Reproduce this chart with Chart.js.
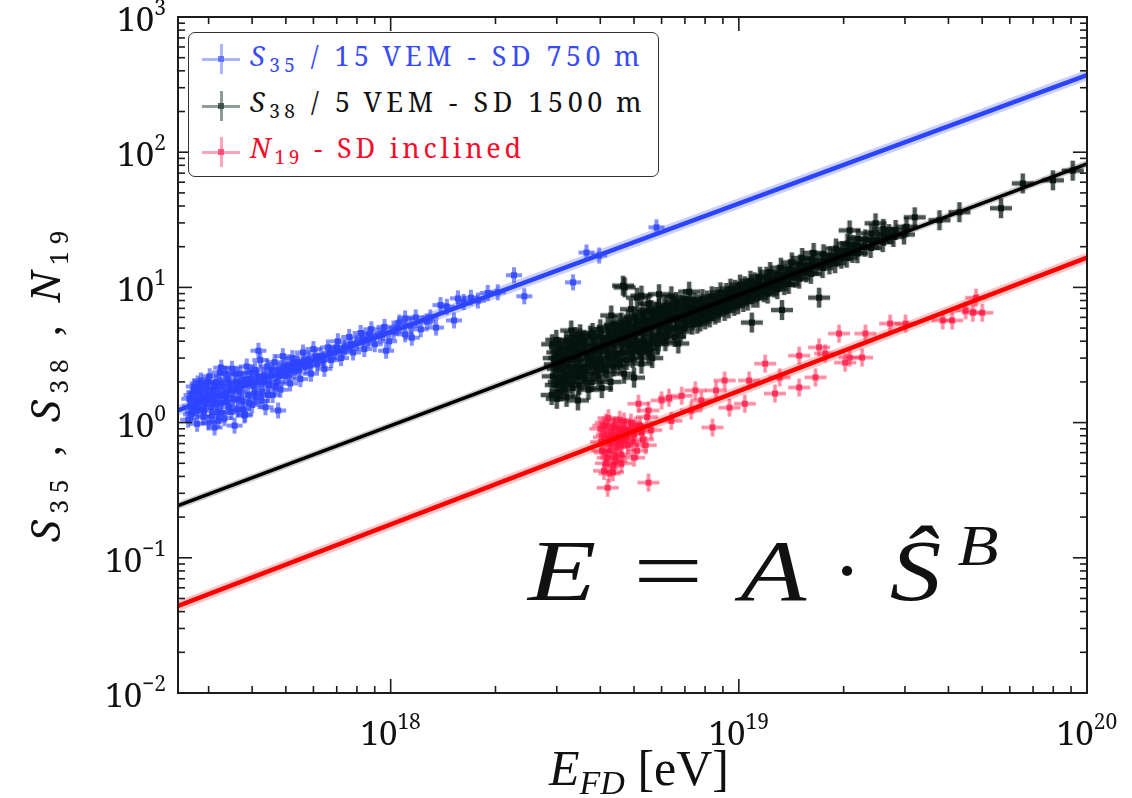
<!DOCTYPE html>
<html>
<head>
<meta charset="utf-8">
<script src="https://cdn.jsdelivr.net/npm/chart.js@4.4.1/dist/chart.umd.min.js"></script>
<style>
  html, body { margin: 0; padding: 0; background: #fff; }
  #wrap { position: relative; width: 1132px; height: 798px; overflow: hidden; background: #fff; }
  #plot { position: absolute; left: 0; top: 0; }
  .txt { position: absolute; white-space: nowrap; color: #111; }
  .sup, .sub { position: relative; }
  .bl { display: inline-block; width: 0; height: 0; vertical-align: baseline; }
  #legendBox { position: absolute; box-sizing: border-box; background: #fff;
               border: 1.6px solid #333; border-radius: 7px; }
  .mk { position: absolute; }
  .mk div { position: absolute; }
</style>
</head>
<body>
<div id="wrap">
  <canvas id="plot" width="1132" height="798"></canvas>
</div>
<script>
// Energy in EeV (10^18 eV) against the shower-size estimator of each detector array.
const s35Events = [
  [0.262,1.05],[0.265,1.32],[0.268,1.6],[0.27,1.2],[0.272,1.85],[0.275,1.45],[0.278,0.98],[0.28,1.7],
  [0.283,1.25],[0.285,2.05],[0.288,1.55],[0.29,1.1],[0.293,1.38],[0.295,1.9],[0.298,1.62],[0.30,1.0],
  [0.302,2.2],[0.305,1.3],[0.308,1.75],[0.31,1.48],[0.312,0.92],[0.315,2.0],[0.318,1.2],[0.32,1.65],
  [0.323,2.35],[0.326,1.4],[0.33,1.85],[0.333,1.08],[0.336,1.55],[0.34,2.1],[0.343,1.3],[0.346,1.75],
  [0.35,2.5],[0.353,1.5],[0.356,0.95],[0.36,2.0],[0.363,1.25],[0.367,1.7],[0.37,2.3],[0.374,1.45],
  [0.378,1.9],[0.382,1.15],[0.386,2.6],[0.39,1.6],[0.395,2.1],[0.4,1.35],[0.404,1.85],[0.408,2.45],
  [0.412,1.55],[0.417,2.0],[0.422,2.9],[0.427,1.7],[0.432,2.25],[0.437,1.3],[0.442,2.6],[0.447,1.9],
  [0.452,2.2],[0.458,1.6],[0.464,2.8],[0.47,2.0],[0.476,2.45],[0.482,1.75],[0.49,3.1],[0.498,2.2],
  [0.506,2.65],[0.514,1.95],[0.522,3.0],[0.53,2.4],[0.54,2.8],[0.55,2.1],[0.56,3.3],[0.57,2.6],
  [0.58,2.95],[0.59,2.3],[0.6,3.5],[0.615,2.7],[0.63,3.1],[0.645,2.5],[0.66,3.6],[0.675,2.9],
  [0.69,3.3],[0.705,4.0],[0.72,3.0],[0.74,3.6],[0.76,4.3],[0.78,3.3],[0.8,3.9],[0.82,4.6],
  [0.84,3.5],[0.86,4.1],[0.88,4.9],[0.9,3.8],[0.93,4.4],[0.96,5.1],[0.99,4.0],[1.02,4.7],
  [1.06,5.5],[1.1,4.5],[1.14,5.2],[1.18,6.0],[1.22,4.9],[1.27,5.6],
  [0.264,1.5],[0.267,1.15],[0.273,1.68],[0.276,1.28],[0.279,1.95],[0.282,1.45],[0.287,1.78],[0.291,1.22],
  [0.296,1.48],[0.299,2.0],[0.303,1.58],[0.307,1.12],[0.311,1.82],[0.316,1.38],[0.321,1.95],[0.325,1.18],
  [0.331,1.6],[0.335,2.3],[0.339,1.42],[0.344,1.95],[0.349,1.2],[0.355,1.8],[0.359,2.3],[0.365,1.5],
  [0.371,1.95],[0.376,1.25],[0.384,2.1],[0.392,1.4],[0.398,2.35],[0.406,1.65],[0.414,2.2],[0.425,1.45],
  [0.434,2.0],[0.444,1.6],[0.455,2.45],[0.467,1.85],[0.479,2.2],[0.494,2.6],[0.51,2.3],[0.526,2.75],
  [0.545,2.5],[0.565,2.85],[0.585,2.65],[0.61,3.1],[0.64,2.9],[0.67,3.3],[0.7,3.6],[0.73,3.4],
  [0.77,3.8],[0.83,4.2],[0.87,4.5],[0.95,4.6],[1.04,5.0],
  [0.417,3.4],[0.326,2.55],[1.1,5.9],[1.15,4.25],[0.97,3.4],[0.475,1.23],[0.38,1.13],[0.32,1.03],
  [1.3,6.0],[1.35,5.05],[1.39,7.4],[1.45,7.2],[1.52,5.7],[1.56,8.3],[1.62,7.8],[1.7,8.4],
  [1.78,8.0],[1.9,9.1],[2.03,9.2],[2.26,12.3],[2.42,8.6],[3.34,10.9],[3.65,18.1],[3.97,17.2],[5.8,27.8]
];

const s38Events = [
  [2.90,1.6],[2.92,2.2],[2.94,3.0],[2.91,3.8],[3.00,1.5],[2.98,1.9],[3.02,2.5],[3.01,3.3],[2.99,4.1],
  [3.08,1.7],[3.12,2.1],[3.10,2.8],[3.06,3.6],[3.14,2.4],[3.20,1.55],[3.18,2.0],[3.24,2.6],[3.22,3.1],
  [3.19,4.0],[3.30,4.8],[3.33,1.8],[3.37,2.3],[3.35,2.9],[3.31,3.5],[3.39,4.3],[3.48,1.9],[3.52,2.5],
  [3.46,3.0],[3.55,3.8],[3.50,4.5],[3.44,2.2],[3.62,2.1],[3.68,2.7],[3.65,3.3],[3.60,4.1],[3.70,1.75],
  [3.78,2.0],[3.82,2.6],[3.76,3.2],[3.85,3.7],[3.80,4.6],[3.95,2.2],[4.02,2.8],[3.98,3.4],[4.06,4.0],
  [4.00,4.9],[4.04,1.8],[4.16,2.4],[4.22,3.0],[4.18,3.6],[4.25,4.3],[4.20,5.1],[4.30,6.2],[4.36,2.6],
  [4.42,3.2],[4.38,3.9],[4.45,4.6],[4.40,5.3],[4.55,2.7],[4.62,3.3],[4.58,4.1],[4.65,4.8],[4.60,5.5],
  [4.68,2.3],[4.76,2.9],[4.82,3.6],[4.78,4.3],[4.85,5.0],[4.80,5.8],[4.90,6.9],[4.96,3.0],[5.04,3.8],
  [4.98,4.5],[5.06,5.3],[5.02,6.1],[5.25,3.3],[5.32,4.0],[5.28,4.8],[5.35,5.6],[5.30,6.4],[5.50,7.6],
  [5.55,3.5],[5.62,4.3],[5.58,5.0],[5.66,5.9],[5.60,6.8],[5.64,3.0],[5.85,3.8],[5.92,4.5],[5.88,5.3],
  [5.95,6.2],[5.90,7.1],[6.15,4.0],[6.24,4.8],[6.18,5.6],[6.26,6.5],[6.20,7.4],[6.40,8.6],[6.55,4.3],
  [6.64,5.1],[6.58,6.0],[6.66,6.9],[6.60,7.8],[6.95,5.0],[7.04,5.6],[6.98,6.3],[7.06,7.2],[7.00,8.2],
  [7.20,9.3],[7.35,5.3],[7.44,6.0],[7.38,6.7],[7.46,7.7],[7.75,5.6],[7.84,6.3],[7.78,7.1],[7.86,8.2],
  [8.25,6.0],[8.34,6.7],[8.28,7.5],[8.36,8.6],[8.75,6.5],[8.84,7.2],[8.78,8.0],[8.86,9.2],
  [9.35,7.0],[9.44,7.7],[9.38,8.6],[9.46,9.8],[9.95,7.5],[10.05,8.3],[9.98,9.2],[10.08,10.5],
  [10.6,8.0],[10.75,8.9],[10.65,9.9],[10.8,11.2],[11.3,8.4],[11.45,9.5],[11.35,10.6],[11.5,12.0],
  [12.1,9.0],[12.25,10.2],[12.15,11.5],[12.3,13.0],[12.9,9.7],[13.1,11.0],[13.0,12.4],[13.2,14.0],
  [13.9,10.6],[14.1,12.1],[14.0,13.6],[14.2,15.3],[14.9,11.6],[15.1,13.1],[15.0,14.8],[15.2,16.5],
  [16.1,12.6],[16.3,14.3],[16.2,16.0],[16.4,18.0],[17.4,13.9],[17.6,15.7],[17.5,17.6],
  [18.9,15.1],[19.1,17.1],[19.0,19.4],[20.4,16.6],[20.6,18.7],[20.5,21.1],[21.9,17.9],[22.1,20.1],
  [22.0,22.9],[23.9,19.6],[24.1,22.1],[24.0,25.1],[25.9,21.6],[26.1,24.1],[26.0,27.1],[27.8,23.6],
  [28.2,26.6],[29.8,24.6],[30.3,28.1],
  [2.96,2.7],[3.04,2.0],[3.05,3.0],[3.15,1.9],[3.16,3.3],[3.27,2.2],[3.28,3.8],[3.42,2.6],[3.41,3.4],
  [3.43,4.0],[3.58,2.3],[3.57,3.6],[3.72,2.9],[3.74,4.4],[3.9,2.4],[3.88,3.0],[3.92,4.3],[4.1,2.6],
  [4.12,3.7],[4.28,2.0],[4.3,3.3],[4.32,4.7],[4.5,2.9],[4.52,4.4],[4.7,3.8],[4.72,5.2],[4.92,3.3],
  [4.94,4.1],[5.12,4.6],[5.15,3.5],[5.18,5.7],[5.42,3.8],[5.44,5.2],[5.46,6.7],[5.75,4.0],[5.78,5.6],
  [5.8,6.5],[6.05,4.4],[6.08,5.9],[6.1,7.0],[6.35,5.0],[6.38,6.2],[6.45,7.3],[6.8,4.7],[6.82,5.8],
  [6.84,7.4],[7.15,5.9],[7.2,6.8],[7.25,8.0],[7.6,5.4],[7.62,6.4],[7.65,7.5],[8.0,5.8],[8.05,6.9],
  [8.1,8.0],[8.55,6.3],[8.6,7.4],[8.62,8.5],[9.1,6.7],[9.15,7.9],[9.2,9.1],[9.7,7.3],[9.72,8.4],
  [9.75,9.6],[10.3,7.8],[10.35,9.0],[10.4,10.2],[11.0,8.4],[11.05,9.6],[11.1,10.9],[11.8,9.2],
  [11.9,10.4],[12.0,12.0],[12.6,10.0],[12.7,11.4],[13.5,10.4],[13.6,12.6],[14.5,11.8],[14.6,13.4],
  [15.6,12.9],[15.7,14.6],[16.8,14.5],[18.2,14.8],[18.3,17.0],[19.7,16.3],[19.8,18.6],[21.2,18.0],
  [21.3,20.6],[23.0,20.0],[23.1,22.7],[25.0,22.4],[27.0,24.8],
  [20.8,26.4],[24.7,29.8],[32,33],[37.7,31.4],[43,36],[56.6,38.5],[65.4,58.8],[79.8,62],[91,73],
  [17,8.4],[13.3,6.8],[10.9,5.5],[4.7,10],[5.25,8.7],[5.9,8.9],[6.7,3.85],[5.5,3.25],[5.25,2.73],
  [5.0,2.15],[3.45,1.46],[4.65,10.3],[5.1,8.4]
];

const n19Events = [
  [4.0,0.9],[4.05,0.62],[4.1,0.78],[4.15,1.0],[4.2,0.55],[4.25,0.7],[4.3,0.85],[4.35,0.48],
  [4.4,0.95],[4.45,0.66],[4.5,0.8],[4.55,1.05],[4.6,0.58],[4.65,0.74],[4.7,0.9],[4.8,0.68],
  [4.9,1.0],[5.0,0.82],[5.1,0.62],[5.2,0.95],[5.3,0.75],[5.45,1.1],[5.6,0.88],[4.2,0.33],
  [5.5,0.36],[4.35,0.43],[4.1,0.44],[4.6,0.5],[5.0,0.55],
  [4.02,0.72],[4.08,0.95],[4.12,0.6],[4.18,0.82],[4.22,1.08],[4.28,0.62],[4.32,0.76],[4.38,0.92],
  [4.42,0.56],[4.48,0.72],[4.52,0.9],[4.58,0.68],[4.62,0.84],[4.68,1.02],[4.75,0.78],[4.85,0.88],
  [4.95,0.72],[5.05,0.95],[5.25,0.85],[5.4,0.68],[4.15,0.5],[4.25,0.42],[4.45,0.52],
  [5.5,1.23],[5.15,1.38],[6.3,1.53],[6.4,1.03],[7.3,1.23],[7.5,1.73],[8.4,0.92],[9.1,2.05],
  [9.4,1.29],[10.4,1.38],[10.7,2.05],[11.9,2.73],[12.7,1.64],[13.1,2.16],[14.9,1.82],[14.9,3.13],
  [16.6,2.16],[17.0,3.6],[17.7,3.25],[20.2,2.78],[20.8,3.03],[22.6,3.03],[19.4,4.56],[23.1,4.56],
  [27.2,5.4],[30.1,5.4],[38.5,5.7],[41,5.7],[44.8,6.76],[47,6.5],[50,6.5],[48,8.4],
  [6.0,1.46],[6.85,1.58],[7.8,1.46],[8.6,1.73]
];

// Power-law calibration fits, given by their end points across the energy range.
const fitS35 = [[0.245, 1.23], [100, 372]];
const fitS38 = [[0.245, 0.243], [100, 82]];
const fitN19 = [[0.245, 0.044], [100, 16.6]];

// Decades that carry tick labels.
const xDecades = [18, 19, 20];
const yDecades = [3, 2, 1, 0, -1, -2];

const EEV = 1e18;
const toXY = arr => arr.map(([e, s]) => ({ x: e * EEV, y: s }));

// Marker sprite: an error cross with a darker centre.
function crossSprite(rgb, hArm, vArm, lw, alpha, dotAlpha) {
  const c = document.createElement('canvas');
  c.width = 2 * hArm + 2; c.height = 2 * vArm + 2;
  const g = c.getContext('2d');
  const cx = c.width / 2, cy = c.height / 2;
  g.fillStyle = `rgba(${rgb},${alpha})`;
  g.fillRect(cx - hArm, cy - lw / 2, 2 * hArm, lw);
  g.fillRect(cx - lw / 2, cy - vArm, lw, vArm - lw / 2);
  g.fillRect(cx - lw / 2, cy + lw / 2, lw, vArm - lw / 2);
  g.fillStyle = `rgba(${rgb},${dotAlpha})`;
  g.fillRect(cx - 3, cy - 3, 6, 6);
  return c;
}

const BLUE = '45,68,255', DARK = '6,20,15', RED = '255,20,65';

function scatterSet(label, data, sprite) {
  return { type: 'scatter', label, data: toXY(data), pointStyle: sprite,
           pointRadius: 5, order: 3 };
}
function fitSet(data, color, width, order) {
  return { type: 'line', data: toXY(data), borderColor: color, borderWidth: width,
           pointRadius: 0, fill: false, tension: 0, borderCapStyle: 'butt', order };
}

// Frame with inward major/minor ticks on all four sides.
const frameTicks = {
  id: 'frameTicks',
  afterDatasetsDraw(chart) {
    const { ctx, chartArea: a, scales: { x, y } } = chart;
    ctx.save();
    ctx.strokeStyle = '#1c1c1c';
    ctx.lineWidth = 1.6;
    const seg = (x1, y1, x2, y2) => { ctx.beginPath(); ctx.moveTo(x1, y1); ctx.lineTo(x2, y2); ctx.stroke(); };
    for (let d = 17; d <= 20; d++) {
      for (let m = 1; m <= 9; m++) {
        const v = m * Math.pow(10, d);
        if (v < x.min * 0.999 || v > x.max * 1.001) continue;
        const px = x.getPixelForValue(v);
        const L = m === 1 ? 14 : 7;
        seg(px, a.bottom, px, a.bottom - L);
        seg(px, a.top, px, a.top + L);
      }
    }
    for (let d = -2; d <= 3; d++) {
      for (let m = 1; m <= 9; m++) {
        const v = m * Math.pow(10, d);
        if (v < y.min * 0.999 || v > y.max * 1.001) continue;
        const py = y.getPixelForValue(v);
        const L = m === 1 ? 14 : 7;
        seg(a.left, py, a.left + L, py);
        seg(a.right, py, a.right - L, py);
      }
    }
    ctx.lineWidth = 2;
    ctx.strokeRect(a.left, a.top, a.right - a.left, a.bottom - a.top);
    ctx.restore();
  }
};

const chart = new Chart(document.getElementById('plot'), {
  type: 'scatter',
  data: {
    datasets: [
      scatterSet('S35', s35Events, crossSprite(BLUE, 8, 8, 4, 0.6, 0.85)),
      scatterSet('S38', s38Events, crossSprite(DARK, 11, 10, 4.5, 0.72, 0.95)),
      scatterSet('N19', n19Events, crossSprite(RED, 11, 9, 3.5, 0.5, 0.75)),
      fitSet(fitS35, 'rgba(45,68,255,0.25)', 10, 1),
      fitSet(fitS38, 'rgba(0,0,0,0.2)', 7, 1),
      fitSet(fitN19, 'rgba(255,0,0,0.22)', 10, 1),
      fitSet(fitS35, 'rgb(45,68,255)', 4.5, 0),
      fitSet(fitS38, 'rgb(0,0,0)', 3.6, 0),
      fitSet(fitN19, 'rgb(255,0,0)', 4.5, 0)
    ]
  },
  options: {
    responsive: false,
    animation: false,
    devicePixelRatio: 1,
    events: [],
    layout: { padding: { left: 178, top: 17, right: 45, bottom: 105 } },
    scales: {
      x: { type: 'logarithmic', min: 2.45e17, max: 1e20, display: false },
      y: { type: 'logarithmic', min: 0.01, max: 1000, display: false }
    },
    plugins: { legend: { display: false }, tooltip: { enabled: false } }
  },
  plugins: [frameTicks]
});

// ---- text layer ----
const wrap = document.getElementById('wrap');
const SERIF = '"Noto Serif", "DejaVu Serif", serif';
const TIMES = '"Liberation Serif", serif';

function place(html, o) {
  const d = document.createElement('div');
  d.className = 'txt';
  d.innerHTML = html + '<span class="bl"></span>';
  d.style.fontFamily = o.family;
  d.style.fontSize = o.size + 'px';
  d.style.lineHeight = '1';
  if (o.italic) d.style.fontStyle = 'italic';
  if (o.color) d.style.color = o.color;
  d.style.left = '0px';
  d.style.top = '0px';
  wrap.appendChild(d);
  if (o.spacingTo) fitWidth(d, o.spacingTo);
  const r = d.getBoundingClientRect();
  const b = d.querySelector('.bl').getBoundingClientRect();
  const w = r.width;
  let left = o.x;
  if (o.align === 'center') left = o.x - w / 2;
  else if (o.align === 'right') left = o.x - w;
  d.style.left = left + 'px';
  d.style.top = (o.baseline - (b.top - r.top)) + 'px';
  if (o.stretch) { d.style.transformOrigin = '50% 100%'; d.style.transform = `scaleX(${o.stretch})`; }
  return d;
}
function fitWidth(d, target) {
  const w = d.getBoundingClientRect().width;
  const n = d.textContent.length;
  d.style.letterSpacing = ((target - w) / n) + 'px';
}
const expText = e => (e < 0 ? '\u2212' + (-e) : String(e));

const xs = chart.scales.x, ys = chart.scales.y;
xDecades.forEach(d => {
  place(`10<span class="sup" style="font-size:21px;top:-16px">${expText(d)}</span>`,
        { family: SERIF, size: 33, x: xs.getPixelForValue(Math.pow(10, d)), align: 'center', baseline: 745 });
});
yDecades.forEach(d => {
  place(`10<span class="sup" style="font-size:21px;top:-16px">${expText(d)}</span>`,
        { family: SERIF, size: 33, x: 166, align: 'right', baseline: ys.getPixelForValue(Math.pow(10, d)) + 14 });
});

// x-axis title
place('<i>E</i><span class="sub" style="font-size:34px;top:9px;font-style:italic">FD</span> [eV]',
      { family: TIMES, size: 50, x: 639, align: 'center', baseline: 785 });

// y-axis title, rotated a quarter turn
const yTitle = place('<i>S</i><span class="sub" style="font-size:25px;top:8px">35</span> , ' +
                     '<i>S</i><span class="sub" style="font-size:25px;top:8px">38</span> , ' +
                     '<i>N</i><span class="sub" style="font-size:25px;top:8px">19</span>',
                     { family: SERIF, size: 40, x: 0, baseline: 0, spacingTo: 318 });
{
  const r = yTitle.getBoundingClientRect();
  yTitle.style.left = (45 - r.width / 2) + 'px';
  yTitle.style.top = (383 - r.height / 2) + 'px';
  yTitle.style.transform = 'rotate(-90deg)';
  yTitle.style.transformOrigin = '50% 50%';
}

// legend
const box = document.createElement('div');
box.id = 'legendBox';
Object.assign(box.style, { left: '188px', top: '32px', width: '471px', height: '145px' });
wrap.appendChild(box);

function legendMarker(cx, cy, rgb, alpha) {
  const m = document.createElement('div');
  m.className = 'mk';
  Object.assign(m.style, { left: (cx - 19) + 'px', top: (cy - 15) + 'px', width: '38px', height: '30px' });
  const h = document.createElement('div');
  Object.assign(h.style, { left: '0px', top: '13.5px', width: '38px', height: '3px', background: `rgba(${rgb},${alpha})` });
  const v = document.createElement('div');
  Object.assign(v.style, { left: '17.5px', top: '0px', width: '3px', height: '13.5px', background: `rgba(${rgb},${alpha})` });
  const v2 = document.createElement('div');
  Object.assign(v2.style, { left: '17.5px', top: '16.5px', width: '3px', height: '13.5px', background: `rgba(${rgb},${alpha})` });
  const c = document.createElement('div');
  Object.assign(c.style, { left: '16px', top: '12px', width: '6px', height: '6px', background: `rgba(${rgb},0.75)` });
  m.appendChild(h); m.appendChild(v); m.appendChild(v2); m.appendChild(c);
  wrap.appendChild(m);
}
const legendRows = [
  { html: '<i>S</i><span class="sub" style="font-size:19px;top:6px">35</span> / 15\u2009VEM - SD 750\u2009m',
    color: 'rgb(55,75,248)', rgb: '70,92,255', alpha: 0.45, y: 59, base: 66, width: 394 },
  { html: '<i>S</i><span class="sub" style="font-size:19px;top:6px">38</span> / 5\u2009VEM - SD 1500\u2009m',
    color: '#111', rgb: '30,58,48', alpha: 0.5, y: 106, base: 112, width: 396 },
  { html: '<i>N</i><span class="sub" style="font-size:19px;top:6px">19</span> - SD inclined',
    color: 'rgb(245,12,42)', rgb: '255,50,100', alpha: 0.45, y: 152, base: 158, width: 275 }
];
legendRows.forEach(r => {
  legendMarker(221, r.y, r.rgb, r.alpha);
  place(r.html, { family: SERIF, size: 27, x: 250, baseline: r.base, color: r.color, spacingTo: r.width });
});

// calibration formula
place('E', { family: TIMES, size: 86, italic: true, x: 562, align: 'center', baseline: 600, stretch: 1.3 });
place('=', { family: TIMES, size: 86, x: 668, align: 'center', baseline: 600, stretch: 1.45 });
place('A', { family: TIMES, size: 86, italic: true, x: 773, align: 'center', baseline: 600, stretch: 1.25 });
place('\u00B7', { family: TIMES, size: 86, x: 847, align: 'center', baseline: 600 });
place('\u015C', { family: TIMES, size: 86, italic: true, x: 915, align: 'center', baseline: 600, stretch: 1.2 });
place('B', { family: TIMES, size: 56, italic: true, x: 978, align: 'center', baseline: 565, stretch: 1.2 });
</script>
</body>
</html>
